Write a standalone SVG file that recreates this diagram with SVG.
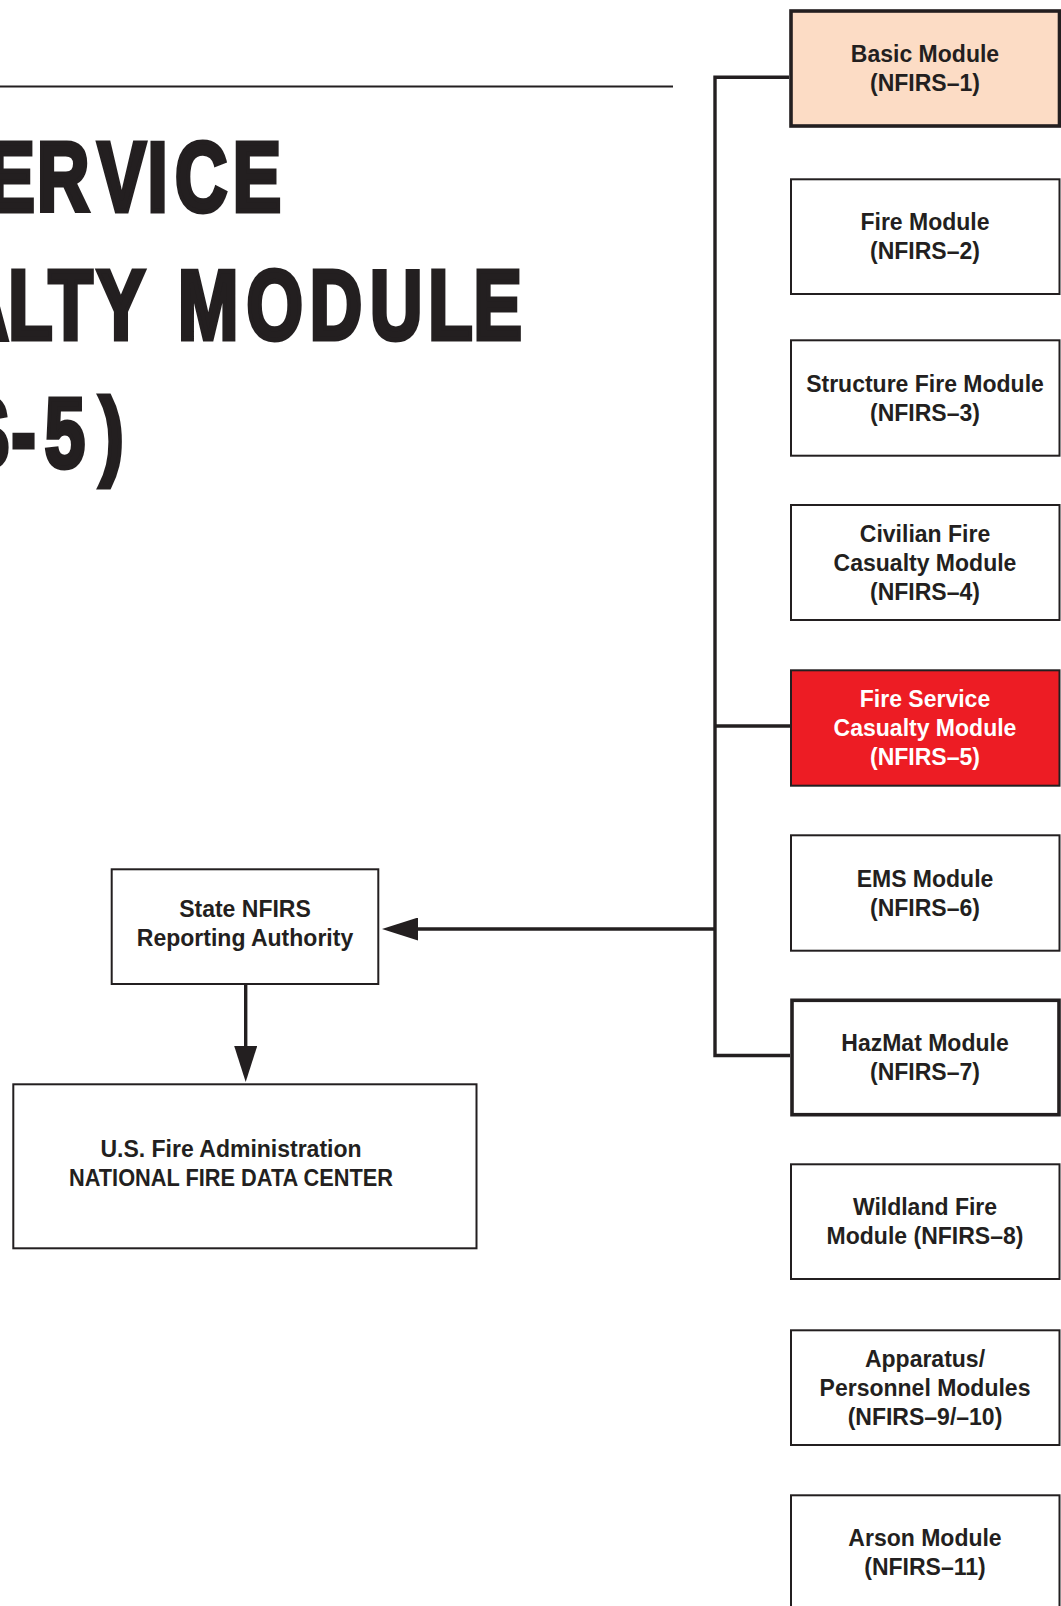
<svg xmlns="http://www.w3.org/2000/svg" width="1061" height="1606" viewBox="0 0 1061 1606">
<defs>
<style>
.box{fill:#ffffff;stroke:#231f20;stroke-width:2}
.thick{stroke-width:3.6}
.basic{fill:#fcdcc5}
.red{fill:#ed1c24}
.lbl{font-family:"Liberation Sans",Arial,sans-serif;font-weight:bold;font-size:23px;fill:#231f20;text-anchor:middle}
.wht{fill:#ffffff}
.title{font-family:"Liberation Sans",Arial,sans-serif;font-weight:bold;font-size:98px;fill:#231f20;stroke:#231f20;stroke-width:5;stroke-linejoin:miter}
.conn{fill:none;stroke:#231f20;stroke-width:3.4;stroke-linejoin:miter}
</style>
<marker id="arr" viewBox="0 0 36 23" refX="28" refY="11.5" markerWidth="36" markerHeight="23" markerUnits="userSpaceOnUse" orient="auto">
<path d="M0,0 L36,11.5 L0,23 Z" fill="#231f20"/>
</marker>
</defs>
<rect width="1061" height="1606" fill="#ffffff"/>

<g id="title">
<line x1="0" y1="86.5" x2="673" y2="86.5" stroke="#231f20" stroke-width="2"/>
<text class="title" transform="scale(0.74,1)" x="-18.1 50.1 131.8 199.4 236.5 314.4" y="211.5">ERVICE</text>
<text class="title" transform="scale(0.74,1)" x="-58.9 11.2 65.4 130.8 196.2 240.5 333.2 418.7 499.9 578.8 640" y="339.5">ALTY MODULE</text>
<text class="title" transform="scale(0.74,1)" x="-52.5 15.6 60.4 134.6" y="467.5">S-5)</text>
</g>

<g id="connectors">
<path class="conn" d="M789,77.3 H715 V1055.5 H790"/>
<path class="conn" d="M715,726 H790"/>
<path class="conn" d="M715,929 H390" marker-end="url(#arr)"/>
<path class="conn" d="M245.7,985 V1074" marker-end="url(#arr)"/>
</g>

<g id="n1">
<rect class="box thick basic" x="791" y="11" width="268.5" height="115"/>
<text class="lbl" x="925" y="62">Basic Module</text>
<text class="lbl" x="925" y="91">(NFIRS–1)</text>
</g>
<g id="n2">
<rect class="box" x="791" y="179.3" width="268.5" height="114.7"/>
<text class="lbl" x="925" y="230.2">Fire Module</text>
<text class="lbl" x="925" y="259.2">(NFIRS–2)</text>
</g>
<g id="n3">
<rect class="box" x="791" y="340.3" width="268.5" height="115.4"/>
<text class="lbl" x="925" y="391.5">Structure Fire Module</text>
<text class="lbl" x="925" y="420.5">(NFIRS–3)</text>
</g>
<g id="n4">
<rect class="box" x="791" y="505" width="268.5" height="115"/>
<text class="lbl" x="925" y="541.5">Civilian Fire</text>
<text class="lbl" x="925" y="570.5">Casualty Module</text>
<text class="lbl" x="925" y="599.5">(NFIRS–4)</text>
</g>
<g id="n5">
<rect class="box red" x="791" y="670.3" width="268.5" height="115.4"/>
<text class="lbl wht" x="925" y="707">Fire Service</text>
<text class="lbl wht" x="925" y="736">Casualty Module</text>
<text class="lbl wht" x="925" y="765">(NFIRS–5)</text>
</g>
<g id="n6">
<rect class="box" x="791" y="835.3" width="268.5" height="115.4"/>
<text class="lbl" x="925" y="886.5">EMS Module</text>
<text class="lbl" x="925" y="915.5">(NFIRS–6)</text>
</g>
<g id="n7">
<rect class="box thick" x="792" y="1000.3" width="267" height="114.4"/>
<text class="lbl" x="925" y="1051">HazMat Module</text>
<text class="lbl" x="925" y="1080">(NFIRS–7)</text>
</g>
<g id="n8">
<rect class="box" x="791" y="1164.3" width="268.5" height="114.7"/>
<text class="lbl" x="925" y="1215.2">Wildland Fire</text>
<text class="lbl" x="925" y="1244.2">Module (NFIRS–8)</text>
</g>
<g id="n9">
<rect class="box" x="791" y="1330.3" width="268.5" height="114.7"/>
<text class="lbl" x="925" y="1366.7">Apparatus/</text>
<text class="lbl" x="925" y="1395.7">Personnel Modules</text>
<text class="lbl" x="925" y="1424.7">(NFIRS–9/–10)</text>
</g>
<g id="n10">
<rect class="box" x="791" y="1495.3" width="268.5" height="130"/>
<text class="lbl" x="925" y="1546.3">Arson Module</text>
<text class="lbl" x="925" y="1575.3">(NFIRS–11)</text>
</g>
<g id="state">
<rect class="box" x="111.7" y="869.3" width="266.6" height="114.7"/>
<text class="lbl" x="245" y="917">State NFIRS</text>
<text class="lbl" x="245" y="945.5">Reporting Authority</text>
</g>
<g id="usfa">
<rect class="box" x="13.3" y="1084.3" width="463.2" height="164"/>
<text class="lbl" x="231" y="1157">U.S. Fire Administration</text>
<text class="lbl" x="231" y="1185.7" textLength="324" lengthAdjust="spacingAndGlyphs">NATIONAL FIRE DATA CENTER</text>
</g>
</svg>
